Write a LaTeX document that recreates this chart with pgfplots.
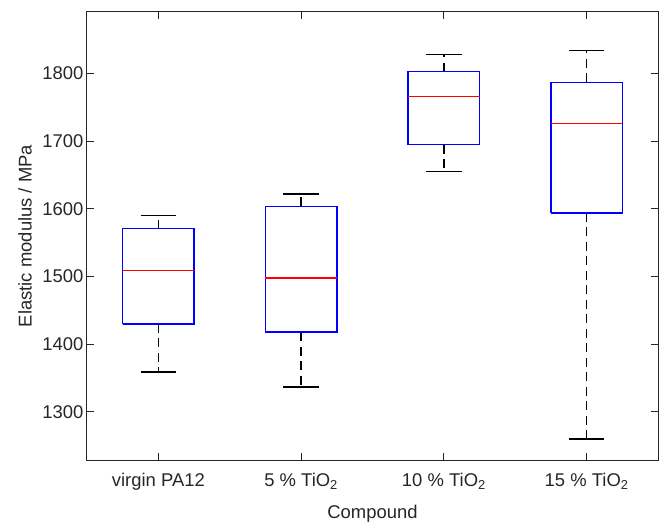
\documentclass[border=0pt]{standalone}
\usepackage{fontspec}
\setmainfont{Liberation Sans}
\usepackage{pgfplots}
\pgfplotsset{compat=1.18}
\definecolor{axgray}{RGB}{38,38,38}
\newcommand{\ff}{\fontsize{18.5}{21}\selectfont}
\begin{document}
\begin{tikzpicture}
\begin{axis}[
  name=ax,
  scale only axis, width=571bp, height=448bp,
  xmin=0.5, xmax=4.5, ymin=1229, ymax=1891,
  xtick={1,2,3,4},
  xticklabels={virgin PA12, 5 \% TiO\textsubscript{2}, 10 \% TiO\textsubscript{2}, 15 \% TiO\textsubscript{2}},
  ytick={1300,1400,1500,1600,1700,1800},
  tick align=inside, major tick length=7bp,
  axis line style={axgray, line width=1bp},
  tick style={axgray, line width=1bp},
  every tick label/.append style={text=axgray, font=\ff},
  xticklabel style={yshift=-10bp},
  /pgf/number format/assume math mode=true,
  /pgf/number format/1000 sep={},
  xlabel={Compound}, ylabel={Elastic modulus / MPa},
  every axis x label/.style={at={(axis description cs:0.5,0)}, yshift=-58bp, anchor=base, text=axgray, font=\ff},
  every axis y label/.style={at={(axis description cs:0,0.5)}, xshift=-62bp, rotate=90, anchor=center, text=axgray, font=\ff},
  boxline/.style={blue, line width=1.4bp},
  medline/.style={red, line width=1.4bp},
  whisk/.style={black, line width=1.4bp, dash pattern=on 9bp off 5.5bp},
  capline/.style={black, line width=1.4bp},
]
% virgin PA12: lw=1359, q1=1430, med=1509, q3=1571, uw=1590
\addplot[whisk] coordinates {(1,1571) (1,1590)};
\addplot[whisk] coordinates {(1,1430) (1,1359)};
\addplot[capline] coordinates {(0.875,1590) (1.125,1590)};
\addplot[capline] coordinates {(0.875,1359) (1.125,1359)};
\addplot[boxline] coordinates {(0.75,1430) (1.25,1430) (1.25,1571) (0.75,1571) (0.75,1430)};
\addplot[medline] coordinates {(0.75,1509) (1.25,1509)};
% 5 % TiO2: lw=1337, q1=1418, med=1498, q3=1604, uw=1622
\addplot[whisk] coordinates {(2,1604) (2,1622)};
\addplot[whisk] coordinates {(2,1418) (2,1337)};
\addplot[capline] coordinates {(1.875,1622) (2.125,1622)};
\addplot[capline] coordinates {(1.875,1337) (2.125,1337)};
\addplot[boxline] coordinates {(1.75,1418) (2.25,1418) (2.25,1604) (1.75,1604) (1.75,1418)};
\addplot[medline] coordinates {(1.75,1498) (2.25,1498)};
% 10 % TiO2: lw=1655, q1=1695, med=1766, q3=1803, uw=1828
\addplot[whisk] coordinates {(3,1803) (3,1828)};
\addplot[whisk] coordinates {(3,1695) (3,1655)};
\addplot[capline] coordinates {(2.875,1828) (3.125,1828)};
\addplot[capline] coordinates {(2.875,1655) (3.125,1655)};
\addplot[boxline] coordinates {(2.75,1695) (3.25,1695) (3.25,1803) (2.75,1803) (2.75,1695)};
\addplot[medline] coordinates {(2.75,1766) (3.25,1766)};
% 15 % TiO2: lw=1260, q1=1594, med=1726, q3=1787, uw=1834
\addplot[whisk] coordinates {(4,1787) (4,1834)};
\addplot[whisk] coordinates {(4,1594) (4,1260)};
\addplot[capline] coordinates {(3.875,1834) (4.125,1834)};
\addplot[capline] coordinates {(3.875,1260) (4.125,1260)};
\addplot[boxline] coordinates {(3.75,1594) (4.25,1594) (4.25,1787) (3.75,1787) (3.75,1594)};
\addplot[medline] coordinates {(3.75,1726) (4.25,1726)};
\end{axis}
\pgfresetboundingbox
\path[use as bounding box] ([shift={(-87bp,-62bp)}]ax.south west) rectangle ([shift={(4bp,12bp)}]ax.north east);
\end{tikzpicture}
\end{document}
